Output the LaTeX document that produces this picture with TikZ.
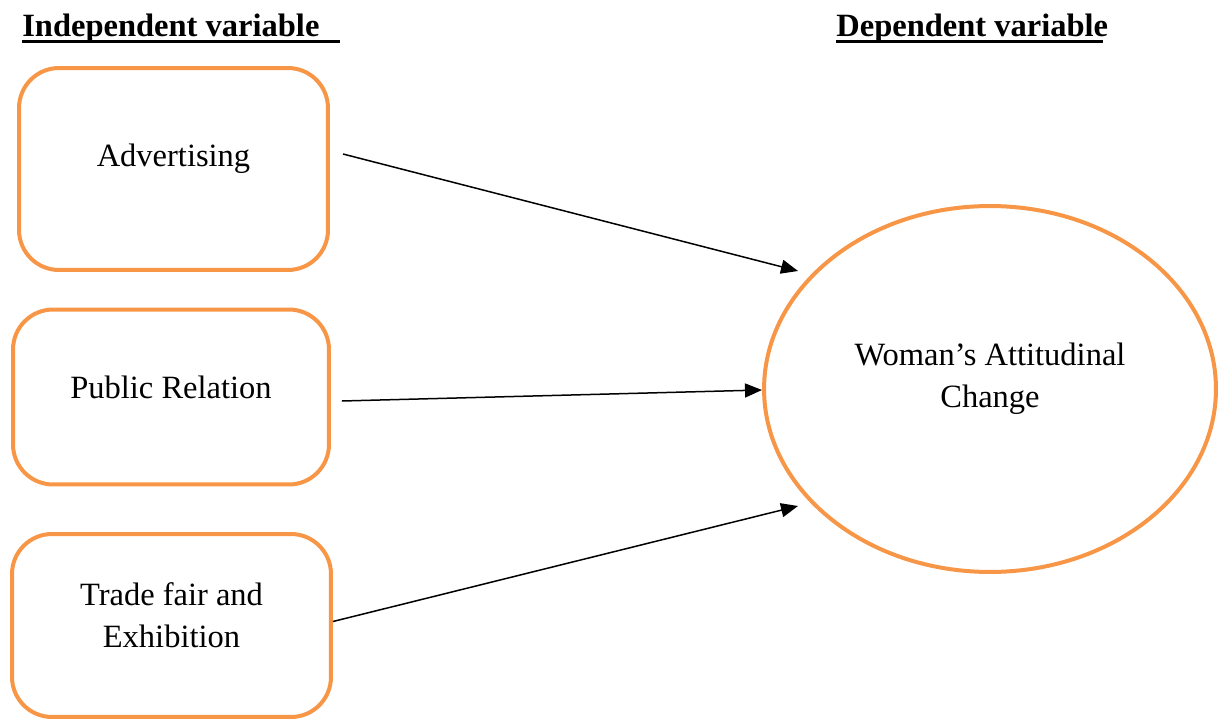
\documentclass[tikz,border=0pt]{standalone}
\usepackage{fontspec}
\setmainfont{Liberation Serif}
\usetikzlibrary{arrows.meta,shapes.geometric}
\definecolor{varorange}{RGB}{247,150,70}
\tikzset{
	varbox/.style={draw=varorange, line width=0.08cm, rounded corners=0.8cm, inner sep=0pt},
	varoval/.style={draw=varorange, line width=0.08cm, ellipse, inner sep=0pt},
	vartext/.style={font=\fontsize{18.5}{24}\selectfont, align=center, yshift=0.2cm},
	heading/.style={font=\fontsize{18.5}{22}\selectfont\bfseries, anchor=base west, inner sep=0pt},
	uline/.style={line width=0.06cm},
	link/.style={line width=0.03cm, -{Triangle[length=0.34cm, width=0.28cm]}}
}

\begin{document}
\begin{tikzpicture}[x=0.02cm, y=-0.02cm]
		%%%%% START %%%%%
		\useasboundingbox (0, 0) rectangle (1222, 719);
		
		\node[heading] (indep) at (22, 37) {Independent variable};
		\draw[uline] (indep.base west) ++(0, 5) -- ++(318, 0);
		\node[heading] (dep) at (836, 37) {Dependent variable};
		\draw[uline] (dep.base west) ++(0, 5) -- ++(267, 0);
		
		\node[varbox, minimum width=6.18cm, minimum height=4.04cm,
			label={[vartext, name=advtext]center:Advertising}] (adv) at (173.5, 169) {};
		\node[varbox, minimum width=6.32cm, minimum height=3.5cm,
			label={[vartext, name=prtext]center:Public Relation}] (pr) at (171, 397) {};
		\node[varbox, minimum width=6.38cm, minimum height=3.66cm,
			label={[vartext, name=tradetext]center:Trade fair and\\Exhibition}] (trade) at (171.5, 625.5) {};
		
		\node[varoval, minimum width=9.04cm, minimum height=7.32cm,
			label={[vartext, name=changetext]center:Woman’s Attitudinal\\Change}] (change) at (990, 389) {};
		
		\coordinate (tipA) at (798, 271);
		\coordinate (tipB) at (762, 390);
		\coordinate (tipC) at (798, 506);
		
		\draw[link] ([xshift=0.26cm, yshift=0.3cm]adv.east) -- (tipA);
		\draw[link] ([xshift=0.22cm, yshift=-0.08cm]pr.east) -- (tipB);
		\draw[link] ([yshift=0.08cm]trade.east) -- (tipC);
		%%%%% END %%%%%
\end{tikzpicture}
\end{document}
